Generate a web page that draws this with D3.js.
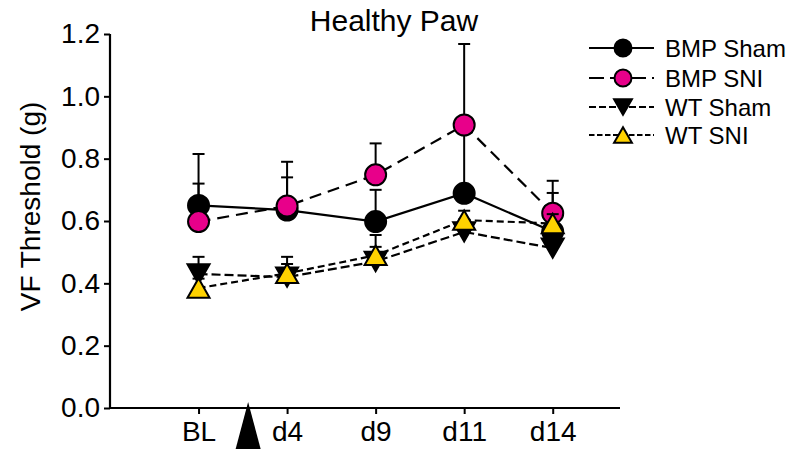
<!DOCTYPE html>
<html>
<head>
<meta charset="utf-8">
<script src="https://cdn.jsdelivr.net/npm/d3@7"></script>
<style>
  html, body { margin: 0; padding: 0; background: #ffffff; }
  svg { display: block; font-family: "Liberation Sans", Arial, sans-serif; }
</style>
</head>
<body>
<svg id="chart" width="788" height="449"></svg>
<script>
// ---- data ----
const categories = ["BL", "d4", "d9", "d11", "d14"];
const bmpShamMean = [0.650, 0.635, 0.598, 0.689, 0.566];
const bmpShamErr  = [0.165, 0.155, 0.102, 0.196, 0.124];
const bmpSniMean  = [0.598, 0.648, 0.748, 0.908, 0.625];
const bmpSniErr   = [0.122, 0.092, 0.101, 0.260, 0.104];
const wtShamMean  = [0.430, 0.420, 0.470, 0.565, 0.513];
const wtShamErr   = [0.055, 0.065, 0.047, 0.040, 0.030];
const wtSniMean   = [0.385, 0.432, 0.490, 0.603, 0.592];
const wtSniErr    = [0.030, 0.030, 0.065, 0.030, 0.030];
const yTicks = [0.0, 0.2, 0.4, 0.6, 0.8, 1.0, 1.2];
const seriesNames = ["BMP Sham", "BMP SNI", "WT Sham", "WT SNI"];

const series = [
  { name: seriesNames[0], mean: bmpShamMean, err: bmpShamErr, symbol: "circle", fill: "#000000", dash: null, legendDash: null },
  { name: seriesNames[1], mean: bmpSniMean, err: bmpSniErr, symbol: "circle", fill: "#e8008a", dash: "12,7", legendDash: "15,6" },
  { name: seriesNames[2], mean: wtShamMean, err: wtShamErr, symbol: "down", fill: "#000000", dash: "9,4", legendDash: "7,3" },
  { name: seriesNames[3], mean: wtSniMean, err: wtSniErr, symbol: "up", fill: "#ffd200", dash: "7,4", legendDash: "5.5,2.5" }
];

const svg = d3.select("#chart");
const xLeft = 110, xRight = 620, yTop = 34, yBottom = 408;

// x: categories at index positions; axis extends one step left of BL
const x = d3.scaleLinear().domain([-1, 4.76]).range([xLeft, xRight]);
const y = d3.scaleLinear().domain([0, 1.2]).range([yBottom, yTop]);

// axes
const yAxis = d3.axisLeft(y).tickValues(yTicks).tickFormat(d3.format(".1f")).tickSize(6).tickPadding(4);
const gy = svg.append("g").attr("transform", `translate(${xLeft},0)`).call(yAxis);
gy.select(".domain").attr("d", `M0,${yTop}V${yBottom}`).attr("stroke", "#000").attr("stroke-width", 2.2);
gy.selectAll(".tick line").attr("stroke", "#000").attr("stroke-width", 2);
gy.selectAll(".tick text").attr("font-size", 28).attr("fill", "#000").attr("font-family", "Liberation Sans, Arial, sans-serif");

const xAxis = d3.axisBottom(x).tickValues(d3.range(categories.length)).tickFormat(i => categories[i]).tickSize(6).tickPadding(7);
const gx = svg.append("g").attr("transform", `translate(0,${yBottom})`).call(xAxis);
gx.select(".domain").attr("d", `M${xLeft},0H${xRight}`).attr("stroke", "#000").attr("stroke-width", 2.2);
gx.selectAll(".tick line").attr("stroke", "#000").attr("stroke-width", 2);
gx.selectAll(".tick text").attr("font-size", 28).attr("fill", "#000").attr("font-family", "Liberation Sans, Arial, sans-serif");

// arrow (surgery marker) between BL and d4
const ax = x(0.56);
svg.append("path")
  .attr("d", `M${ax},${yBottom - 6}L${ax - 12.5},449L${ax + 12.5},449Z`)
  .attr("fill", "#000");

// title and y label
svg.append("text").attr("x", 394).attr("y", 31).attr("text-anchor", "middle")
  .attr("font-size", 30).attr("fill", "#000").text("Healthy Paw");
svg.append("text").attr("transform", `translate(40,${(103 + 310) / 2}) rotate(-90)`)
  .attr("text-anchor", "middle").attr("font-size", 28).attr("fill", "#000").text("VF Threshold (g)");

// symbol drawing
function drawSymbol(g, type, cx, cy, fill, size) {
  if (type === "circle") {
    g.append("circle").attr("cx", cx).attr("cy", cy).attr("r", size)
      .attr("fill", fill).attr("stroke", "#000").attr("stroke-width", 2);
  } else {
    const w = size * 1.05, h = size * 0.92;
    const pts = type === "up"
      ? [[cx, cy - h], [cx - w, cy + h], [cx + w, cy + h]]
      : [[cx, cy + h], [cx - w, cy - h], [cx + w, cy - h]];
    g.append("path").attr("d", "M" + pts.map(p => p.join(",")).join("L") + "Z")
      .attr("fill", fill).attr("stroke", "#000").attr("stroke-width", 2).attr("stroke-linejoin", "miter");
  }
}

const plot = svg.append("g");
const line = d3.line().x((d, i) => x(i)).y(d => y(d));

series.forEach(s => {
  const g = plot.append("g");
  // error bars (upper)
  s.mean.forEach((m, i) => {
    const top = y(m + s.err[i]);
    g.append("line").attr("x1", x(i)).attr("x2", x(i)).attr("y1", y(m)).attr("y2", top)
      .attr("stroke", "#000").attr("stroke-width", 2);
    g.append("line").attr("x1", x(i) - 6).attr("x2", x(i) + 6).attr("y1", top).attr("y2", top)
      .attr("stroke", "#000").attr("stroke-width", 2);
  });
  g.append("path").datum(s.mean).attr("d", line).attr("fill", "none")
    .attr("stroke", "#000").attr("stroke-width", 2.2)
    .attr("stroke-dasharray", s.dash);
  s.mean.forEach((m, i) => drawSymbol(g, s.symbol, x(i), y(m), s.fill, s.symbol === "circle" ? 10.5 : 10.5));
});

// legend
const legRows = [48, 78, 107, 135];
series.forEach((s, k) => {
  const g = svg.append("g");
  const ly = legRows[k];
  g.append("line").attr("x1", 589).attr("x2", 654).attr("y1", ly).attr("y2", ly)
    .attr("stroke", "#000").attr("stroke-width", 2.2).attr("stroke-dasharray", s.legendDash);
  drawSymbol(g, s.symbol, 623, ly, s.fill, 8.5);
  g.append("text").attr("x", 665).attr("y", ly + 8.5).attr("font-size", 24).attr("fill", "#000").text(s.name);
});
</script>
</body>
</html>
